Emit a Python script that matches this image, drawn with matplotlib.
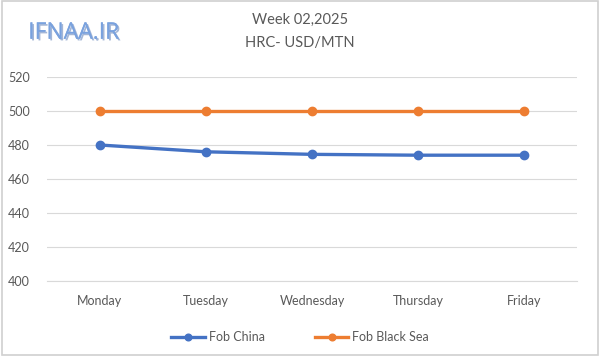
import matplotlib.pyplot as plt
import matplotlib.patheffects as pe

days = ["Monday", "Tuesday", "Wednesday", "Thursday", "Friday"]
fob_china = [480, 476, 474.5, 474, 474]
fob_black_sea = [500, 500, 500, 500, 500]
yticks = [400, 420, 440, 460, 480, 500, 520]

plt.rcParams['font.family'] = ['Lato', 'DejaVu Sans']
grey = '#595959'

fig = plt.figure(figsize=(6, 3.56), dpi=100)
ax = fig.add_axes([0.078, 0.2107, 0.884, 0.573])

x = range(len(days))
ax.plot(x, fob_china, color='#4472C4', lw=2.4, marker='o', ms=6, label='Fob China')
ax.plot(x, fob_black_sea, color='#ED7D31', lw=2.4, marker='o', ms=6, label='Fob Black Sea')

ax.set_xlim(-0.5, len(days) - 0.5)
ax.set_ylim(400, 520)
ax.set_yticks(yticks)
ax.set_xticks(list(x))
ax.set_xticklabels(days)
ax.grid(axis='y', color='#d9d9d9', lw=0.8)
ax.set_axisbelow(True)
for s in ax.spines.values():
    s.set_visible(False)
ax.spines['bottom'].set_visible(True)
ax.spines['bottom'].set_color('#d9d9d9')
ax.tick_params(length=0, colors=grey, labelsize=9)
ax.tick_params(axis='x', pad=10)
ax.tick_params(axis='y', pad=12)

fig.text(0.5, 0.945, "Week 02,2025", ha='center', va='center', fontsize=10.5, color=grey)
fig.text(0.5, 0.878, "HRC- USD/MTN", ha='center', va='center', fontsize=10.5, color=grey)
fig.text(0.047, 0.908, "IFNAA.IR", ha='left', va='center', fontsize=16.5, color='#7aa2de',
         family=['Open Sans', 'DejaVu Sans'],
         path_effects=[pe.withSimplePatchShadow(offset=(1.2, -1.2), shadow_rgbFace='#4a6fae', alpha=0.5), pe.Normal()])

fig.legend(loc='center', bbox_to_anchor=(0.5, 0.052), ncol=2, frameon=False,
           fontsize=9, labelcolor=grey, handlelength=2.7, columnspacing=4, handletextpad=0.3,
           markerscale=0.8)

border = plt.Rectangle((0.003, 0.004), 0.994, 0.992, transform=fig.transFigure,
                       fill=False, edgecolor='#d0d0d0', lw=1.2)
fig.patches.append(border)

fig.savefig('out.png', dpi=100)
